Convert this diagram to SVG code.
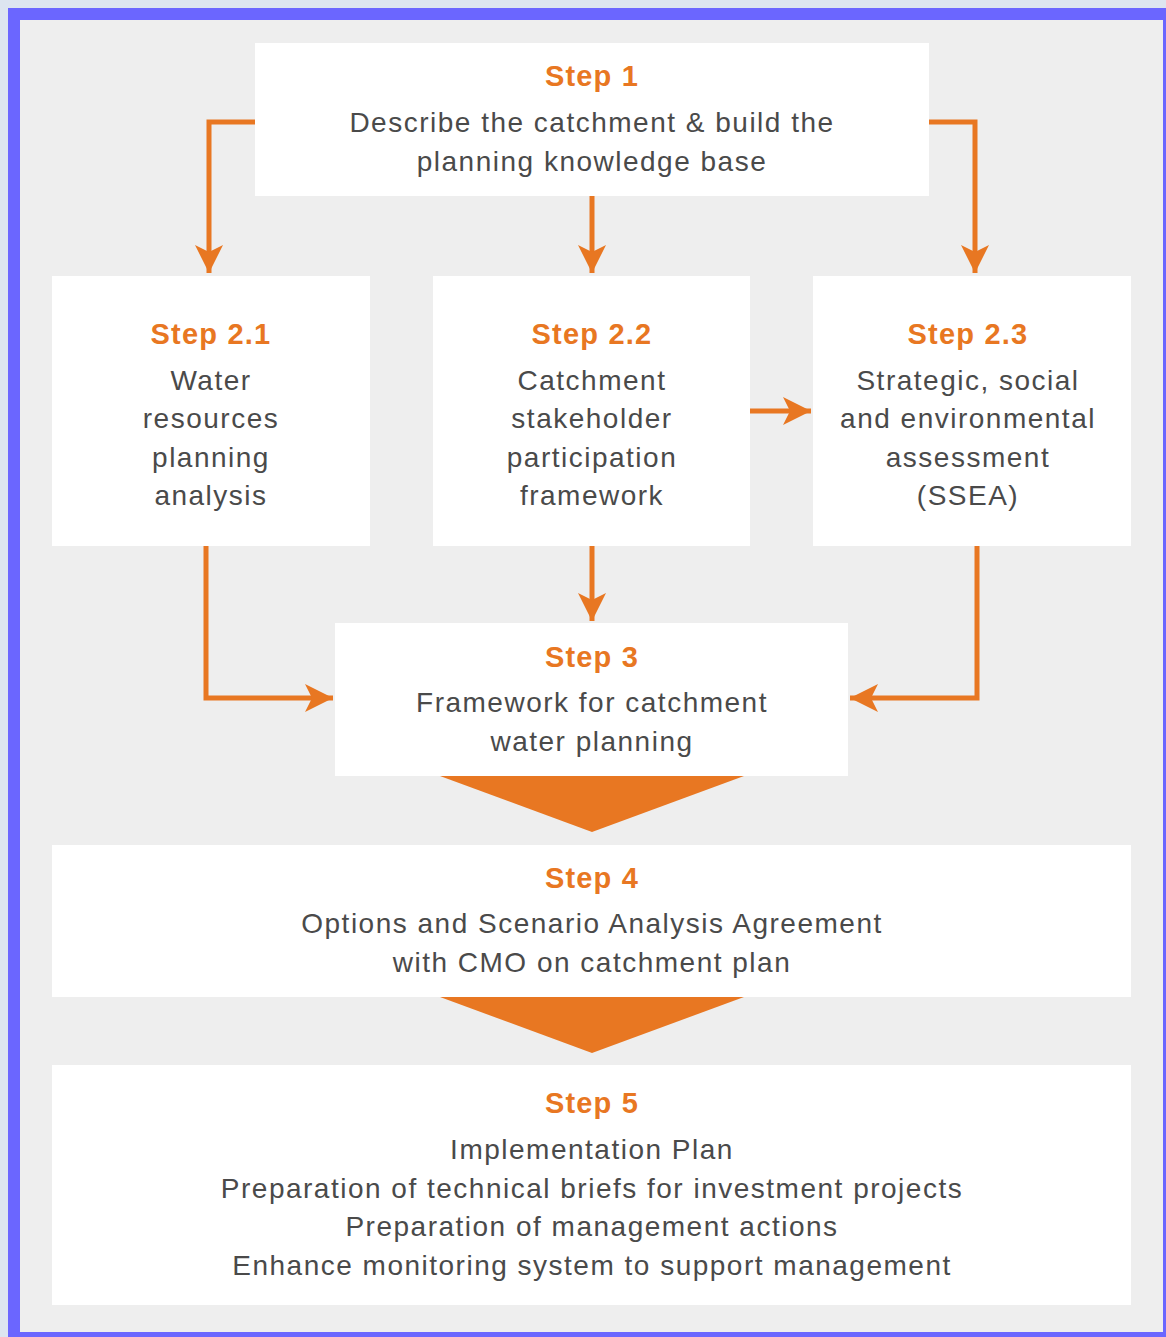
<svg xmlns="http://www.w3.org/2000/svg" width="1166" height="1337" viewBox="0 0 1166 1337">
<style>
.box{fill:#ffffff}
.lbl{font-family:"Liberation Sans",Arial,sans-serif;font-weight:bold;font-size:29px;letter-spacing:1.2px;fill:#e87722;text-anchor:middle}
.txt{font-family:"Liberation Sans",Arial,sans-serif;font-size:28px;letter-spacing:1.5px;fill:#4a4a4a;text-anchor:middle}
.ln{fill:none;stroke:#e87722;stroke-width:5;stroke-linejoin:miter}
.tri{fill:#e87722}
</style>
<defs>
<marker id="ah" viewBox="0 0 10 10" refX="10" refY="5" markerWidth="5.6" markerHeight="5.6" markerUnits="strokeWidth" orient="auto">
<path d="M0,0 L10,5 L0,10 L2.5,5 Z" fill="#e87722"/>
</marker>
</defs>
<rect x="0" y="0" width="1166" height="1337" fill="#dde5f0"/>
<rect x="8" y="8" width="1170" height="1340" fill="#6b66ff"/>
<rect x="20" y="20" width="1143" height="1312" fill="#eeeeee"/>

<g id="connectors">
<path class="ln" d="M255,122 H209 V273" marker-end="url(#ah)"/>
<path class="ln" d="M592,196 V273" marker-end="url(#ah)"/>
<path class="ln" d="M929,122 H975 V273" marker-end="url(#ah)"/>
<path class="ln" d="M750,411 H811" marker-end="url(#ah)"/>
<path class="ln" d="M206,546 V698 H333" marker-end="url(#ah)"/>
<path class="ln" d="M592,546 V621" marker-end="url(#ah)"/>
<path class="ln" d="M977,546 V698 H850" marker-end="url(#ah)"/>
<polygon class="tri" points="440,776 744,776 592,832"/>
<polygon class="tri" points="440,997 744,997 592,1053"/>
</g>

<g id="step1">
<rect class="box" x="255" y="43" width="674" height="153"/>
<text class="lbl" x="592" y="86">Step 1</text>
<text class="txt" x="592" y="132">Describe the catchment &amp; build the</text>
<text class="txt" x="592" y="171">planning knowledge base</text>
</g>

<g id="step21">
<rect class="box" x="52" y="276" width="318" height="270"/>
<text class="lbl" x="211" y="344">Step 2.1</text>
<text class="txt" x="211" y="390">Water</text>
<text class="txt" x="211" y="428">resources</text>
<text class="txt" x="211" y="467">planning</text>
<text class="txt" x="211" y="505">analysis</text>
</g>

<g id="step22">
<rect class="box" x="433" y="276" width="317" height="270"/>
<text class="lbl" x="592" y="344">Step 2.2</text>
<text class="txt" x="592" y="390">Catchment</text>
<text class="txt" x="592" y="428">stakeholder</text>
<text class="txt" x="592" y="467">participation</text>
<text class="txt" x="592" y="505">framework</text>
</g>

<g id="step23">
<rect class="box" x="813" y="276" width="318" height="270"/>
<text class="lbl" x="968" y="344">Step 2.3</text>
<text class="txt" x="968" y="390">Strategic, social</text>
<text class="txt" x="968" y="428">and environmental</text>
<text class="txt" x="968" y="467">assessment</text>
<text class="txt" x="968" y="505">(SSEA)</text>
</g>

<g id="step3">
<rect class="box" x="335" y="623" width="513" height="153"/>
<text class="lbl" x="592" y="667">Step 3</text>
<text class="txt" x="592" y="712">Framework for catchment</text>
<text class="txt" x="592" y="751">water planning</text>
</g>

<g id="step4">
<rect class="box" x="52" y="845" width="1079" height="152"/>
<text class="lbl" x="592" y="888">Step 4</text>
<text class="txt" x="592" y="933">Options and Scenario Analysis Agreement</text>
<text class="txt" x="592" y="972">with CMO on catchment plan</text>
</g>

<g id="step5">
<rect class="box" x="52" y="1065" width="1079" height="240"/>
<text class="lbl" x="592" y="1113">Step 5</text>
<text class="txt" x="592" y="1159">Implementation Plan</text>
<text class="txt" x="592" y="1198">Preparation of technical briefs for investment projects</text>
<text class="txt" x="592" y="1236">Preparation of management actions</text>
<text class="txt" x="592" y="1275">Enhance monitoring system to support management</text>
</g>
</svg>
